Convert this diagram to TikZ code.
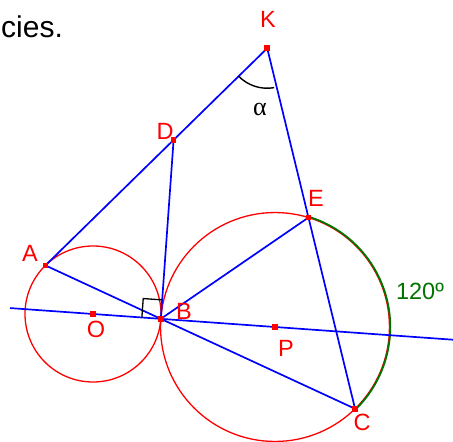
\documentclass[tikz,border=0pt]{standalone}
\usepackage{fontspec}
\setmainfont{Liberation Sans}
\newfontfamily\grkfont{Liberation Serif}
\usetikzlibrary{calc}
\begin{document}
\begin{tikzpicture}[x=1pt,y=-1pt,
  bline/.style={blue, line width=1.7pt},
  circ/.style={red, line width=1.3pt},
  garc/.style={green!45!black, line width=1.8pt},
  lbl/.style={red, font=\fontsize{23.5}{23.5}\selectfont, inner sep=0pt},
  mk/.style={fill=red},
]
\useasboundingbox (0,0) rectangle (453,442);
\def\rO{68}
\def\rP{114.46}
\coordinate (O) at (93,314);
\coordinate (P) at (275,327);
\coordinate (B) at ($(O)!0.37268!(P)$);
\coordinate (A) at ($(O)+(225.6:\rO)$);
\coordinate (C) at ($(P)+(45.6:\rP)$);
\coordinate (E) at ($(P)+(-73:\rP)$);
\coordinate (At) at ($(A)!1!90:(O)$);
\coordinate (Bt) at ($(B)!1!90:(O)$);
\coordinate (D) at (intersection of A--At and B--Bt);
\coordinate (K) at (intersection of A--At and C--E);
\coordinate (L1) at ($(O)!-0.456!(P)$);
\coordinate (L2) at ($(O)!1.978!(P)$);
% circles
\draw[circ] (O) circle[radius=\rO];
\draw[circ] (P) circle[radius=\rP];
\coordinate (Eg) at ($(P)+(-73:\rP+0.8)$);
\draw[garc] (Eg) arc[start angle=-73, end angle=45.6, radius=\rP+0.8];
% lines
\draw[bline] (L1) -- (L2);
\draw[bline] (A) -- (C);
\draw[bline] (A) -- (K) -- (C);
\draw[bline] (B) -- (D);
\draw[bline] (B) -- (E);
% right angle
\coordinate (R1) at ($(B)!19pt!(O)$);
\coordinate (R2) at ($(B)!19pt!(D)$);
\coordinate (R3) at ($(R1)+(R2)-(B)$);
\draw[black, line width=1.3pt] (R1) -- (R3) -- (R2);
% angle alpha
\coordinate (Ka) at ($(K)+(135.6:40)$);
\draw[black, line width=1.4pt] (Ka) arc[start angle=135.6, end angle=80, radius=40];
% markers
\foreach \p in {A,B,C,D,E,K,O,P}
  \fill[mk] ($(\p)+(-2.8,-2.8)$) rectangle ($(\p)+(2.8,2.8)$);
% labels
\node[lbl] (lK) at (268,19) {K};
\node[lbl] (lD) at (165,131) {D};
\node[lbl] (lE) at (316,198) {E};
\node[lbl] (lA) at (30,253) {A};
\node[lbl] (lB) at (184,311) {B};
\node[lbl] (lO) at (96,329) {O};
\node[lbl] (lP) at (286,348) {P};
\node[lbl] (lC) at (362,422) {C};
\node[green!45!black, font=\fontsize{23.5}{23.5}\selectfont, inner sep=0pt] (l120) at (420,291) {120º};
\node[inner sep=0pt, font=\grkfont\fontsize{26}{26}\selectfont] (lalpha) at (260,109) {α};
\node[anchor=base west, inner sep=0pt, font=\fontsize{30}{30}\selectfont] (title) at (1,37) {cies.};
\end{tikzpicture}
\end{document}
